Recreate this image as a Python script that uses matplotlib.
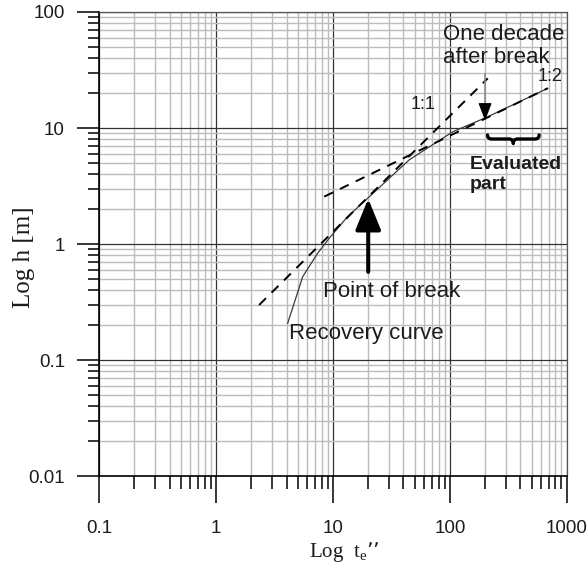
import numpy as np
import matplotlib
matplotlib.use("Agg")
import matplotlib.pyplot as plt
from matplotlib.path import Path
from matplotlib.patches import PathPatch
from matplotlib.ticker import LogLocator, NullFormatter, FixedLocator, FixedFormatter

# ---- data ----
t_recovery = [4.09, 5.50, 5.98, 7.38, 9.27, 13.3, 19.8, 44.7, 106, 211, 688]
h_recovery = [0.207, 0.523, 0.597, 0.831, 1.12, 1.72, 2.48, 5.30, 9.29, 12.5, 22.0]

line_11_t = [2.33, 211]      # slope 1:1
line_11_h = [0.298, 26.8]
line_12_t = [8.4, 687]       # slope 1:2
line_12_h = [2.56, 22.0]

break_t = 20.0               # point of break
decade_t = 10 * break_t      # one decade after break
eval_span = [210, 580]       # evaluated part

x_ticks = [0.1, 1, 10, 100, 1000]
x_labels = ["0.1", "1", "10", "100", "1000"]
y_ticks = [0.01, 0.1, 1, 10, 100]
y_labels = ["0.01", "0.1", "1", "10", "100"]

SANS = "Liberation Sans"
SERIF = "Liberation Serif"
TXT = "#1c1c1c"

fig = plt.figure(figsize=(5.87, 5.66), dpi=100)
ax = fig.add_axes([0.1692, 0.1590, 0.7963, 0.8198])
ax.set_xscale("log")
ax.set_yscale("log")
ax.set_xlim(x_ticks[0], x_ticks[-1])
ax.set_ylim(y_ticks[0], y_ticks[-1])

# grid
ax.set_axisbelow(True)
ax.grid(which="minor", color="#bcbcbc", lw=1.0)
ax.grid(which="major", color="#333333", lw=0.9)

# ticks
ax.xaxis.set_major_locator(FixedLocator(x_ticks))
ax.xaxis.set_major_formatter(FixedFormatter(x_labels))
ax.yaxis.set_major_locator(FixedLocator(y_ticks))
ax.yaxis.set_major_formatter(FixedFormatter(y_labels))
ax.xaxis.set_minor_locator(LogLocator(base=10, subs=np.arange(2, 10)))
ax.yaxis.set_minor_locator(LogLocator(base=10, subs=np.arange(2, 10)))
ax.xaxis.set_minor_formatter(NullFormatter())
ax.yaxis.set_minor_formatter(NullFormatter())
ax.tick_params(axis="x", which="major", direction="out", length=19.4, width=1.1,
               pad=12, labelsize=13.5, labelcolor=TXT)
ax.tick_params(axis="x", which="minor", direction="out", length=9.4, width=1.1)
ax.tick_params(axis="y", which="major", direction="out", length=15.8, width=1.1,
               pad=9, labelsize=13.5, labelcolor=TXT)
ax.tick_params(axis="y", which="minor", direction="out", length=7.9, width=1.1)
for lab in ax.get_xticklabels() + ax.get_yticklabels():
    lab.set_fontfamily(SANS)

for side in ("left", "bottom"):
    ax.spines[side].set_linewidth(1.2)
    ax.spines[side].set_color("black")
for side in ("top", "right"):
    ax.spines[side].set_linewidth(0.9)
    ax.spines[side].set_color("#555555")

# curves
ax.plot(t_recovery, h_recovery, color="#3a3a3a", lw=0.9, zorder=3)
ax.plot(line_11_t, line_11_h, color="black", lw=1.4, ls=(0, (5, 4)), zorder=3)
ax.plot(line_12_t, line_12_h, color="black", lw=1.4, ls=(0, (5, 4)), zorder=3)


def curve_at(t):
    return 10 ** np.interp(np.log10(t), np.log10(t_recovery), np.log10(h_recovery))


# point of break arrow
tip_b = curve_at(break_t) * 0.98
ax.annotate("", xy=(break_t, tip_b), xytext=(break_t, tip_b * 10 ** -0.63),
            arrowprops=dict(arrowstyle="-|>,head_length=1.9,head_width=0.78",
                            mutation_scale=10, color="black", lw=2.9,
                            shrinkA=0, shrinkB=0), zorder=5)

# one decade after break arrow
tip_d = curve_at(decade_t) * 0.95
base_d = tip_d * 10 ** 0.13
ax.plot([decade_t, decade_t], [base_d, tip_d * 10 ** 0.40], color="#8a8a8a", lw=1.2, zorder=4)
ax.annotate("", xy=(decade_t, tip_d), xytext=(decade_t, base_d),
            arrowprops=dict(arrowstyle="-|>,head_length=1.1,head_width=0.42",
                            mutation_scale=10, color="black", lw=0.8,
                            shrinkA=0, shrinkB=0), zorder=5)

# brace under the evaluated part
lx0, lx1 = np.log10(eval_span[0]), np.log10(eval_span[1])
ly_top, ly_mid, ly_tip = 0.94, 0.905, 0.866


def bp(u, ly):
    return (10 ** (lx0 + u * (lx1 - lx0)), 10 ** ly)


verts = [bp(0, ly_top), bp(0, ly_mid), bp(0.08, ly_mid),
         bp(0.42, ly_mid),
         bp(0.5, ly_mid), bp(0.5, ly_tip),
         bp(0.5, ly_mid), bp(0.58, ly_mid),
         bp(0.92, ly_mid),
         bp(1, ly_mid), bp(1, ly_top)]
codes = [Path.MOVETO, Path.CURVE3, Path.CURVE3,
         Path.LINETO,
         Path.CURVE3, Path.CURVE3,
         Path.CURVE3, Path.CURVE3,
         Path.LINETO,
         Path.CURVE3, Path.CURVE3]
ax.add_patch(PathPatch(Path(verts, codes), fill=False, lw=2.4, color="black",
                       capstyle="round", joinstyle="round", zorder=5))

# annotations
ax.text(4.22, 0.170, "Recovery curve", fontsize=16, family=SANS, color=TXT,
        ha="left", va="center", zorder=6)
ax.text(8.15, 0.388, "Point of break", fontsize=16, family=SANS, color=TXT,
        ha="left", va="center", zorder=6)
ax.text(86.8, 51.1, "One decade\nafter break", fontsize=16, family=SANS, color=TXT,
        ha="left", va="center", linespacing=1.12, zorder=6)
ax.text(45.8, 15.8, "1:1", fontsize=13, family=SANS, color=TXT,
        ha="left", va="center", zorder=6)
ax.text(565, 27.7, "1:2", fontsize=13, family=SANS, color=TXT,
        ha="left", va="center", zorder=6)
ax.text(146.6, 3.96, "Evaluated\npart", fontsize=14, family=SANS, weight="bold",
        color=TXT, ha="left", va="center", linespacing=1.2, zorder=6)

# axis labels
ax.set_xlabel("Log  t$_\\mathregular{e}$\u2019\u2019", fontsize=15, family=SERIF,
              color=TXT, va="center")
ax.xaxis.set_label_coords(0.5235, -0.163)
ax.set_ylabel("Log h [m]", fontsize=18, family=SERIF, color=TXT, va="center")
ax.yaxis.set_label_coords(-0.161, 0.472)

fig.savefig("out.png", dpi=100)
